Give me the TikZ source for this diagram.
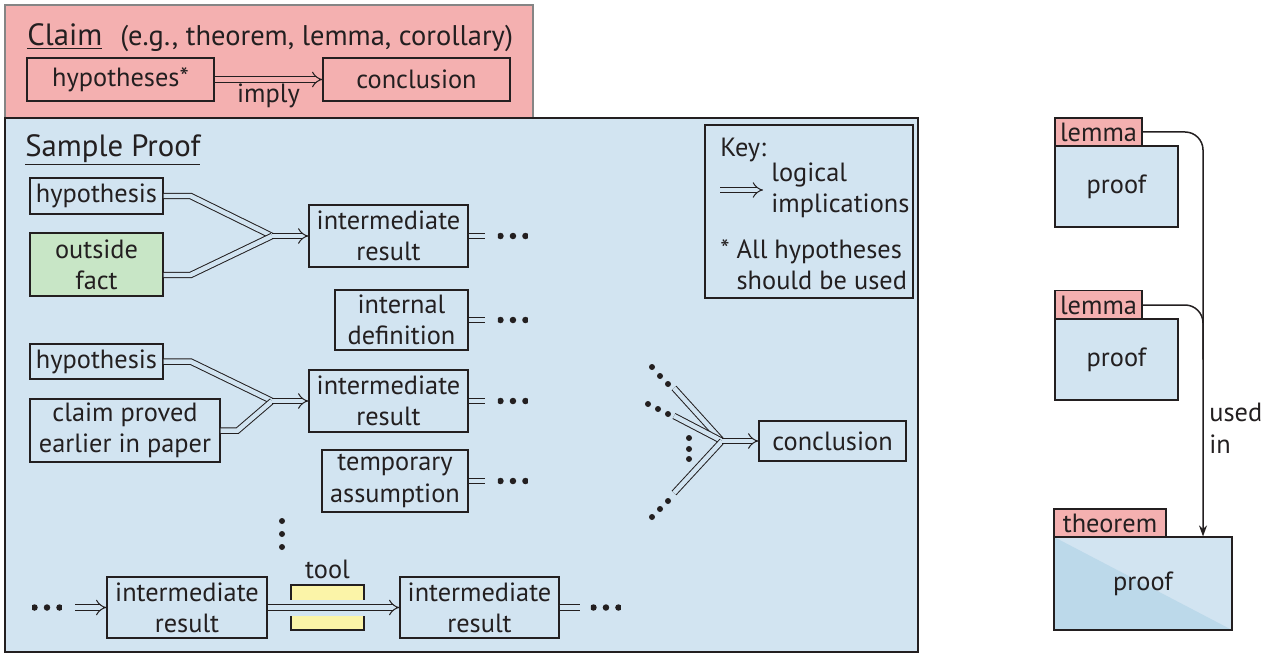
\documentclass[tikz,border=0pt]{standalone}
\usepackage{fontspec}
\setmainfont{PT Sans}
\usetikzlibrary{arrows.meta, positioning}
\definecolor{claimred}{HTML}{F4B0B0}
\definecolor{claimgrey}{HTML}{858585}
\definecolor{proofblue}{HTML}{D2E4F1}
\definecolor{proofdark}{HTML}{BCD9EA}
\definecolor{factgreen}{HTML}{C8E6C6}
\definecolor{toolyellow}{HTML}{FBF4A8}
\definecolor{ink}{HTML}{231F20}
\newcommand{\pu}{0.02cm}
\newcommand{\bigtxt}{\fontsize{17.5pt}{20pt}\selectfont}
\tikzstyle{frame} = [draw=ink, line width=0.045cm, rectangle, inner sep=0pt]
\tikzstyle{block} = [draw=ink, line width=0.025cm, fill=proofblue, rectangle, align=center, inner sep=0pt]
\tikzstyle{txt} = [inner sep=0pt, text=ink]
\tikzstyle{imp} = [draw=ink, line width=0.02cm, double=proofblue, double distance=0.09cm]
\tikzstyle{dotrow} = [minimum width=0.6cm, minimum height=0.14cm, inner sep=0pt,
  path picture={\foreach \k in {-1,0,1} \fill[ink] ([xshift=\k*0.25cm]path picture bounding box.center) circle (0.065cm);}]

\begin{document}
\begin{tikzpicture}[x=\pu, y=-\pu, font=\fontsize{15pt}{17.8pt}\selectfont, text=ink, >={Implies[scale=1.3]}]
  \useasboundingbox (0,0) rectangle (1266,655);
  \node [frame, draw=claimgrey, fill=claimred, minimum width=10.56cm, minimum height=2.26cm] (claimbox) at (269,61.5) {};
  \node [frame, fill=proofblue, minimum width=18.26cm, minimum height=10.68cm] (proofbox) at (461.5,385) {};
  \node [frame, line width=0.05cm, minimum width=4.16cm, minimum height=3.46cm] (keybox) at (809,211.5) {};

  \node [txt, anchor=base west] (claim) at (27,46) {\bigtxt\underline{Claim}};
  \node [txt, anchor=base west, font=\fontsize{16.2pt}{19pt}\selectfont] (eg) at (120,46) {(e.g., theorem, lemma, corollary)};
  \node [block, fill=claimred, minimum width=3.74cm, minimum height=0.86cm] (hyps) at (120.5,79.5) {hypotheses*};
  \node [block, fill=claimred, minimum width=3.74cm, minimum height=0.86cm] (concl) at (416.5,79.5) {conclusion};
  \draw [imp, double=claimred, ->] (hyps) -- node [txt, below=0.08cm] (imply) {imply} (concl);

  \node [txt, anchor=base west] (sample) at (25,156) {\bigtxt\underline{Sample Proof}};
  \node [txt, anchor=base west] (key) at (720,156) {Key:};
  \coordinate (k1) at (720,190);
  \coordinate (k2) at (763,190);
  \draw [imp, ->] (k1) -- (k2);
  \node [txt, anchor=west, align=left] (logical) at (771,190) {logical\\implications};
  \node [txt, anchor=west, align=left] (allhyp) at (720,265) {* All hypotheses\\\phantom{* }should be used};

  \node [block, minimum width=2.66cm, minimum height=0.72cm] (hyp1) at (96.5,196) {hypothesis};
  \node [block, fill=factgreen, minimum width=2.66cm, minimum height=1.26cm] (fact) at (96.5,264.5) {outside\\fact};
  \node [block, minimum width=3.18cm, minimum height=1.24cm] (ir1) at (388.5,236) {intermediate\\result};
  \node [block, minimum width=2.66cm, minimum height=1.2cm] (def) at (401.5,320) {internal\\definition};
  \node [block, minimum width=2.66cm, minimum height=0.7cm] (hyp2) at (96.5,361.5) {hypothesis};
  \node [block, minimum width=3.8cm, minimum height=1.26cm] (earlier) at (125,430.5) {claim proved\\earlier in paper};
  \node [block, minimum width=3.18cm, minimum height=1.24cm] (ir2) at (388.5,401) {intermediate\\result};
  \node [block, minimum width=2.92cm, minimum height=1.24cm] (temp) at (395,481) {temporary\\assumption};
  \node [block, minimum width=2.94cm, minimum height=0.8cm] (concl2) at (832.5,441) {conclusion};

  \coordinate (j1) at (272,236);
  \coordinate (j2) at (272,401);
  \draw [imp] (hyp1.east) -- ++(27,0) -- (j1);
  \draw [imp] ([yshift=-0.21cm]fact.east) -- ++(27,0) -- (j1);
  \draw [imp, ->] (j1) -- (ir1);
  \draw [imp] (hyp2.east) -- ++(27,0) -- (j2);
  \draw [imp] (earlier.east) -- ++(17,0) -- (j2);
  \draw [imp, ->] (j2) -- (ir2);

  \foreach \n in {ir1,def,ir2,temp} {
    \node [dotrow, right=0.58cm of \n] (d\n) {};
    \draw [imp, shorten >=0.26cm] (\n) -- (d\n);
  }

  \coordinate (j3) at (722,441);
  \coordinate (b1) at (674,388);
  \coordinate (b2) at (674,416);
  \coordinate (b3) at (674,493);
  \foreach \b in {b1,b2,b3} \draw [imp] (\b) -- (j3);
  \draw [imp, ->] (j3) -- (concl2);
  \foreach \p in {(652,367),(660,376),(668,384),(648,404),(658,409),(668,414),(689,438),(689,449),(689,459),(668,501),(660,509),(652,517),(282,521),(282,534),(282,547)}
    \fill [ink] \p circle (0.06cm);

  \node [block, minimum width=3.2cm, minimum height=1.22cm] (ir3) at (187,607.5) {intermediate\\result};
  \node [block, minimum width=3.18cm, minimum height=1.22cm] (ir4) at (479.5,607.5) {intermediate\\result};
  \node [block, fill=toolyellow, minimum width=1.46cm, minimum height=0.9cm] (tool) at (327.5,607.5) {};
  \node [txt, above=0.1cm of tool] (toollbl) {tool};
  \fill [proofblue] ([xshift=-0.03cm, yshift=0.16cm]tool.west) rectangle ([xshift=0.03cm, yshift=-0.16cm]tool.east);
  \node [dotrow] (dleft) at (47,607.5) {};
  \draw [imp, ->, shorten <=0.26cm] (dleft) -- (ir3);
  \draw [imp, ->] (ir3) -- (ir4);
  \node [dotrow, right=0.62cm of ir4] (dright) {};
  \draw [imp, shorten >=0.22cm] (ir4) -- (dright);

  \node [block, fill=claimred, minimum width=1.74cm, minimum height=0.56cm] (lem1) at (1098.5,132) {lemma};
  \node [block, minimum width=2.46cm, minimum height=1.62cm] (proof1) at (1116.5,186.5) {proof};
  \node [block, fill=claimred, minimum width=1.74cm, minimum height=0.58cm] (lem2) at (1098.5,305) {lemma};
  \node [block, minimum width=2.46cm, minimum height=1.62cm] (proof2) at (1116.5,359.5) {proof};
  \node [block, fill=claimred, minimum width=2.24cm, minimum height=0.56cm] (thm) at (1110,523) {theorem};
  \node [block, minimum width=3.56cm, minimum height=1.86cm,
    path picture={\fill [proofdark] (path picture bounding box.north west) -- (path picture bounding box.south east) -- (path picture bounding box.south west) -- cycle;}] (proof3) at (1143,583.5) {proof};
  \coordinate (rail) at (1203,120);
  \draw [ink, line width=0.03cm, rounded corners=0.36cm, -{Stealth[length=0.22cm, width=0.16cm]}] (lem1) -| (rail |- proof3.north);
  \draw [ink, line width=0.03cm, rounded corners=0.36cm] (lem2) -| (rail |- proof2.center);
  \node [txt, anchor=north west, align=left] (usedin) at (1209,403) {used\\in};
\end{tikzpicture}
\end{document}
